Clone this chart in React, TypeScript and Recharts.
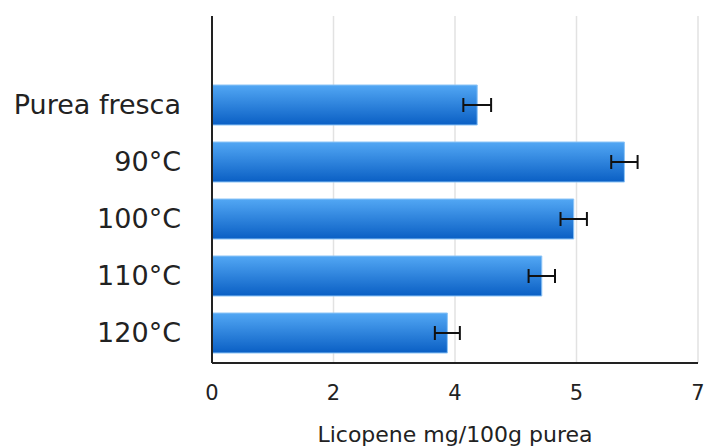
import React from 'react';
import { BarChart, Bar, XAxis, YAxis, CartesianGrid, ErrorBar } from 'recharts';

const categories = ['', 'Purea fresca', '90°C', '100°C', '110°C', '120°C'];
const values: (number | null)[] = [null, 3.82, 5.94, 5.21, 4.75, 3.39];
const errors: (number | null)[] = [null, 0.2, 0.19, 0.19, 0.19, 0.18];
const xTicks = [0, 1.75, 3.5, 5.25, 7];
const xTitle = 'Licopene mg/100g purea';

const data = categories.map((name, i) => ({ name, value: values[i], err: errors[i] }));

export default function App() {
  return (
    <div style={{ position: 'absolute', left: 0, top: 0 }}>
      <BarChart
        width={704}
        height={448}
        data={data}
        layout="vertical"
        margin={{ top: 16, right: 6, bottom: 0, left: 0 }}
        barSize={40}
      >
        <defs>
          <linearGradient id="barGrad" x1="0" y1="0" x2="0" y2="1">
            <stop offset="0%" stopColor="#52a7f4" />
            <stop offset="100%" stopColor="#0a5fc4" />
          </linearGradient>
        </defs>
        <CartesianGrid horizontal={false} stroke="#e2e2e2" strokeWidth={1.5} />
        <XAxis
          type="number"
          domain={[0, 7]}
          ticks={xTicks}
          tickFormatter={(v: number) => String(Math.round(v))}
          axisLine={{ stroke: '#222', strokeWidth: 2 }}
          tickLine={false}
          tickSize={0}
          tickMargin={22}
          height={85}
          tick={{ fontFamily: 'DejaVu Sans', fontSize: 21, fill: '#222' }}
          label={{
            value: xTitle,
            position: 'insideBottom',
            offset: 6,
            style: { fontFamily: 'DejaVu Sans', fontSize: 22, fill: '#222' },
          }}
        />
        <YAxis
          type="category"
          dataKey="name"
          width={212}
          padding={{ top: 3, bottom: 2 }}
          axisLine={{ stroke: '#222', strokeWidth: 2 }}
          tickLine={false}
          tickSize={0}
          tickMargin={31}
          interval={0}
          tick={{ fontFamily: 'DejaVu Sans', fontSize: 27, fill: '#222' }}
        />
        <Bar dataKey="value" fill="url(#barGrad)" stroke="#8cc4f6" strokeWidth={1} isAnimationActive={false}>
          <ErrorBar dataKey="err" direction="x" width={7} stroke="#111" strokeWidth={2} isAnimationActive={false} />
        </Bar>
      </BarChart>
    </div>
  );
}
